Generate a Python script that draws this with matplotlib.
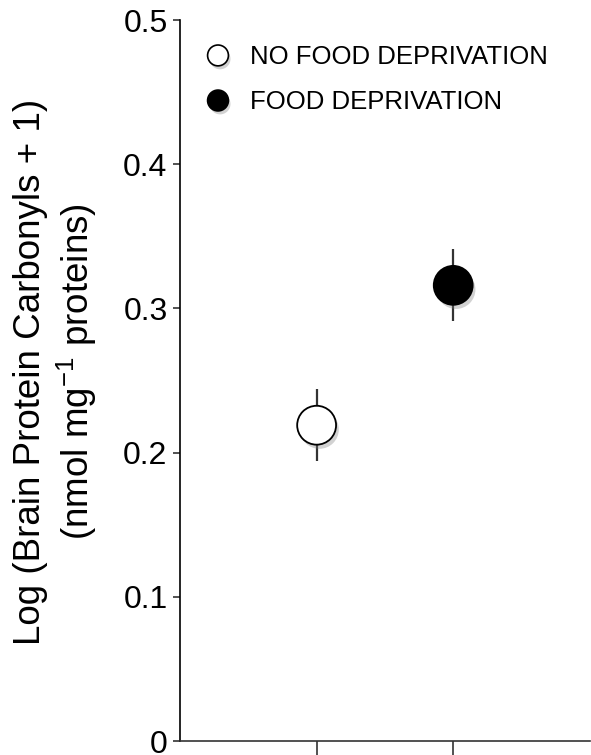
import matplotlib
matplotlib.use("Agg")
import matplotlib.pyplot as plt
import matplotlib.patheffects as pe

plt.rcParams['font.family'] = ['Liberation Sans', 'DejaVu Sans']

groups = ["NO FOOD DEPRIVATION", "FOOD DEPRIVATION"]
xpos = [1, 2]
means = [0.219, 0.316]
errs = [0.025, 0.025]
faces = ["white", "black"]
yticks = [0, 0.1, 0.2, 0.3, 0.4, 0.5]
yticklabels = ["0", "0.1", "0.2", "0.3", "0.4", "0.5"]

fig = plt.figure(figsize=(5.91, 7.55), dpi=100)
ax = fig.add_axes([0.3046, 0.0185, 0.6934, 0.955])

for x, m, e, fc, g in zip(xpos, means, errs, faces, groups):
    ax.errorbar(x, m, yerr=e, fmt="none", ecolor="#333333", elinewidth=1.6, capsize=0, zorder=2)
    ax.plot(x, m, "o", ms=28, mfc=fc, mec="black", mew=1.3, zorder=3, label=g,
            path_effects=[pe.SimplePatchShadow(offset=(2, -3), shadow_rgbFace="gray", alpha=0.35), pe.Normal()])

ax.set_xlim(0, 3)
ax.set_ylim(0, 0.5)
ax.set_xticks(xpos)
ax.set_xticklabels([])
ax.set_yticks(yticks)
ax.set_yticklabels(yticklabels, fontsize=23)
ax.tick_params(axis="y", direction="out", length=5, width=1.2, color="#333333", pad=4)
ax.tick_params(axis="x", direction="out", length=10, width=1.2, color="#333333")
for s in ["top", "right"]:
    ax.spines[s].set_visible(False)
for s in ["left", "bottom"]:
    ax.spines[s].set_linewidth(1.2)
    ax.spines[s].set_color("#333333")
ax.spines["left"].set_color("black")

# y label placed by hand (two centred lines)
fig.text(56 / 591, 1 - 372 / 755, "Log (Brain Protein Carbonyls + 1)\n(nmol mg$^{\\mathregular{-1}}$ proteins)",
         rotation=90, ha="center", va="center", fontsize=26.5, linespacing=1.15, multialignment="center")

leg_handles = [plt.Line2D([], [], marker="o", ls="none", ms=15, mfc=fc, mec="black", mew=1.2,
                          path_effects=[pe.SimplePatchShadow(offset=(1.5, -2.5), shadow_rgbFace="gray", alpha=0.35), pe.Normal()])
               for fc in faces]
ax.legend(leg_handles, groups, loc="upper left", bbox_to_anchor=(0.03, 0.979), frameon=False,
          fontsize=18.5, handletextpad=0.64, labelspacing=0.82, handlelength=1.2, borderaxespad=0)

fig.savefig("out.png", dpi=100)
